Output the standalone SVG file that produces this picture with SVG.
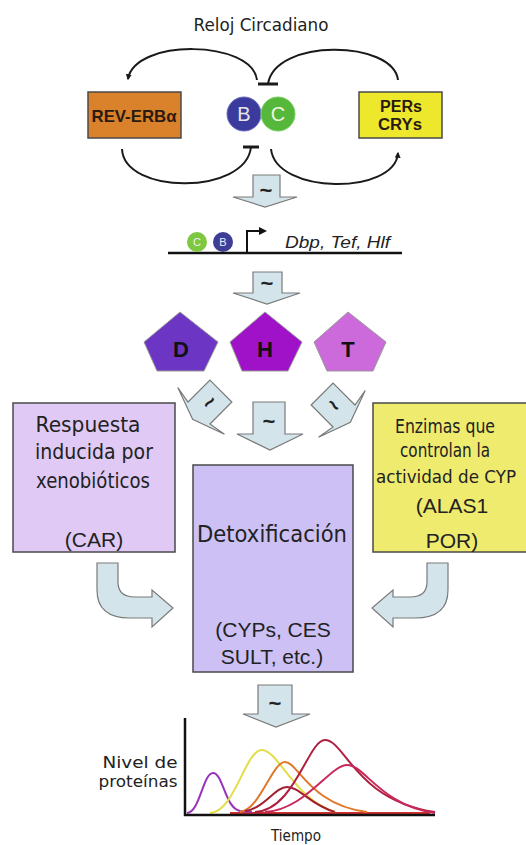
<svg xmlns="http://www.w3.org/2000/svg" width="526" height="845" viewBox="0 0 526 845">
<style>
.bg{fill:#fff}
.arc{fill:none;stroke:#1a1a1a;stroke-width:2}
.bar{stroke:#1a1a1a;stroke-width:3}
.blk{fill:#D3E5EA;stroke:#7a7a7a;stroke-width:1.2}
.tl{font-family:"Liberation Sans",Arial,sans-serif;font-weight:bold;font-size:22px;fill:#222;text-anchor:middle}
.box{stroke:#4a4a4a;stroke-width:1.5}
.tah{font-family:"DejaVu Sans",Verdana,sans-serif;fill:#222;text-anchor:middle}
.ari{font-family:"Liberation Sans",Arial,sans-serif;fill:#222;text-anchor:middle}
.bold{font-family:"Liberation Sans",Arial,sans-serif;font-weight:bold;fill:#2a1a10;text-anchor:middle}
.pent{stroke:#9a9a9a;stroke-width:1}
.curve{fill:none;stroke-width:2}
</style>
<defs>
<marker id="ah" viewBox="0 0 10 10" refX="8" refY="5" markerWidth="6" markerHeight="6" orient="auto" markerUnits="userSpaceOnUse">
<path d="M0,0 L10,5 L0,10 Z" fill="#1a1a1a"/>
</marker>
</defs>
<rect class="bg" x="0" y="0" width="526" height="845"/>

<g id="title"><text class="tah" x="261" y="31" font-size="18" textLength="135" lengthAdjust="spacingAndGlyphs">Reloj Circadiano</text></g>

<g id="connectors">
<path class="arc" d="M257,80 C252,40 135,38 128,79" marker-end="url(#ah)"/>
<path class="arc" d="M398,80 C393,40 275,38 268,84"/>
<line class="bar" x1="258" y1="84" x2="278" y2="84"/>
<path class="arc" d="M122,149 C124,195 246,195 251,147"/>
<line class="bar" x1="243" y1="147" x2="259" y2="147"/>
<path class="arc" d="M271,149 C276,195 395,195 398,153" marker-end="url(#ah)"/>

<g id="arrow1"><path class="blk" d="M253,175 L280,175 L280,197 L297,197 L265,207 L233,197 L253,197 Z"/><text class="tl" x="266" y="198">~</text></g>
<g id="arrow2"><path class="blk" d="M253,272 L282,272 L282,293 L300,293 L267,304 L233,293 L253,293 Z"/><text class="tl" x="267" y="291">~</text></g>
<g id="arrowL" transform="translate(199,413) rotate(45)"><path class="blk" d="M-15.5,-31 L15.5,-31 L15.5,0 L33,-3 L0,9 L-33,-3 L-15.5,0 Z"/><text class="tl" x="0" y="-8" transform="rotate(-90 0 -15)">~</text></g>
<g id="arrowR" transform="translate(344,416) rotate(-45)"><path class="blk" d="M-15.5,-31 L15.5,-31 L15.5,0 L33,-3 L0,9 L-33,-3 L-15.5,0 Z"/><text class="tl" x="0" y="-8" transform="rotate(90 0 -15)">~</text></g>
<g id="arrowC"><path class="blk" d="M253,402 L285,402 L285,434 L303,434 L270,450 L237,434 L253,434 Z"/><text class="tl" x="269" y="429">~</text></g>
<path class="blk" d="M97,563 L118,563 L118,582 Q118,597 135,597 L152,597 L152,590 L173,608 L152,627 L152,618 L130,618 Q97,618 97,590 Z"/>
<path class="blk" d="M448,563 L427,563 L427,582 Q427,597 410,597 L393,597 L393,590 L372,608 L393,627 L393,618 L415,618 Q448,618 448,590 Z"/>
<g id="arrowG"><path class="blk" d="M258,685 L292,685 L292,714 L310,714 L276,727 L243,714 L258,714 Z"/><text class="tl" x="275" y="711">~</text></g>
</g>

<g id="reverb"><rect class="box" x="88" y="92" width="93" height="46" fill="#D9822B"/><text class="bold" x="134" y="122" font-size="17" textLength="85" lengthAdjust="spacingAndGlyphs">REV-ERBα</text></g>
<g id="bc">
<circle cx="244" cy="114" r="17" fill="#3B3B9E" stroke="#6a6ac0" stroke-width="1"/>
<circle cx="278" cy="114" r="17" fill="#55B83A" stroke="#7ad060" stroke-width="1"/>
<text class="ari" x="244" y="121" font-size="20" style="fill:#e6e6e6">B</text>
<text class="ari" x="278" y="121" font-size="20" style="fill:#eef5e0">C</text>
</g>
<g id="pers"><rect class="box" x="359" y="92" width="83" height="46" fill="#EEE82C"/><text class="bold" x="401" y="112" font-size="16" textLength="42" lengthAdjust="spacingAndGlyphs">PERs</text><text class="bold" x="400" y="130" font-size="16" textLength="44" lengthAdjust="spacingAndGlyphs">CRYs</text></g>

<g id="gene">
<line x1="168" y1="253" x2="402" y2="253" stroke="#111" stroke-width="2.5"/>
<circle cx="197" cy="242" r="10" fill="#7DC840"/>
<circle cx="223" cy="242" r="10" fill="#3E3E96"/>
<text class="ari" x="197" y="246" font-size="11" style="fill:#eef">C</text>
<text class="ari" x="223" y="246" font-size="11" style="fill:#eef">B</text>
<path d="M247,253 L247,231 L260,231" fill="none" stroke="#111" stroke-width="2"/>
<path d="M259,227 L267,231 L259,235 Z" fill="#111"/>
<text class="ari" x="285" y="248" font-size="16" font-style="italic" style="text-anchor:start" textLength="105" lengthAdjust="spacingAndGlyphs">Dbp, Tef, Hlf</text>
</g>

<g id="D"><polygon class="pent" points="180,312 218,342 204,371 157,371 144,342" fill="#6C35C4"/><text class="bold" x="181" y="357" font-size="22" style="fill:#111">D</text></g>
<g id="H"><polygon class="pent" points="265,312 302,342 288,371 242,371 230,342" fill="#A012C8"/><text class="bold" x="265" y="357" font-size="22" style="fill:#111">H</text></g>
<g id="T"><polygon class="pent" points="348,312 386,342 373,371 327,371 314,342" fill="#CC6ADB"/><text class="bold" x="348" y="357" font-size="22" style="fill:#111">T</text></g>

<g id="respuesta"><rect class="box" x="13" y="403" width="162" height="149" fill="#E0CAF5"/>
<text class="tah" x="88" y="432" font-size="22" textLength="105" lengthAdjust="spacingAndGlyphs">Respuesta</text>
<text class="tah" x="94" y="459" font-size="22" textLength="118" lengthAdjust="spacingAndGlyphs">inducida por</text>
<text class="tah" x="93" y="488" font-size="22" textLength="114" lengthAdjust="spacingAndGlyphs">xenobióticos</text>
<text class="ari" x="94" y="547" font-size="21">(CAR)</text>
</g>
<g id="detox"><rect class="box" x="193" y="465" width="160" height="207" fill="#CCC0F5"/>
<text class="tah" x="272" y="542" font-size="23" textLength="150" lengthAdjust="spacingAndGlyphs">Detoxificación</text>
<text class="ari" x="273" y="637" font-size="21">(CYPs, CES</text>
<text class="ari" x="272" y="664" font-size="21">SULT, etc.)</text>
</g>
<g id="enzimas"><rect class="box" x="373" y="403" width="160" height="149" fill="#EFEB6E"/>
<text class="tah" x="445" y="433" font-size="20" textLength="100" lengthAdjust="spacingAndGlyphs">Enzimas que</text>
<text class="tah" x="445" y="457" font-size="20" textLength="90" lengthAdjust="spacingAndGlyphs">controlan la</text>
<text class="tah" x="446" y="483" font-size="17" textLength="140" lengthAdjust="spacingAndGlyphs">actividad de CYP</text>
<text class="ari" x="452" y="513" font-size="21">(ALAS1</text>
<text class="ari" x="452" y="548" font-size="21">POR)</text>
</g>

<g id="graph">
<path class="curve" d="M230,813 L430,813" stroke="#D03030"/>
<path class="curve" d="M187,813 C200,812 203,773 213,773 C223,773 225,808 240,811 L252,812" stroke="#9933BB"/>
<path class="curve" d="M210,813 C235,812 245,750 262,750 C278,750 295,800 335,812" stroke="#E2DE4A"/>
<path class="curve" d="M240,812 C260,810 272,762 285,762 C298,762 310,805 367,812" stroke="#E0782A"/>
<path class="curve" d="M245,811 C265,808 275,787 287,787 C300,787 310,805 335,812" stroke="#A02030"/>
<path class="curve" d="M255,812 C295,810 308,740 325,740 C345,740 355,800 435,812" stroke="#B01E40"/>
<path class="curve" d="M265,812 C305,810 330,765 347,765 C365,765 380,805 435,813" stroke="#C8285A"/>
<path d="M185,718 L185,815 L435,815" fill="none" stroke="#111" stroke-width="2.5"/>
<text class="tah" x="140" y="768" font-size="15" textLength="75" lengthAdjust="spacingAndGlyphs">Nivel de</text>
<text class="tah" x="138" y="787" font-size="15" textLength="79" lengthAdjust="spacingAndGlyphs">proteínas</text>
<text class="tah" x="296" y="841" font-size="16" textLength="50" lengthAdjust="spacingAndGlyphs">Tiempo</text>
</g>
</svg>
